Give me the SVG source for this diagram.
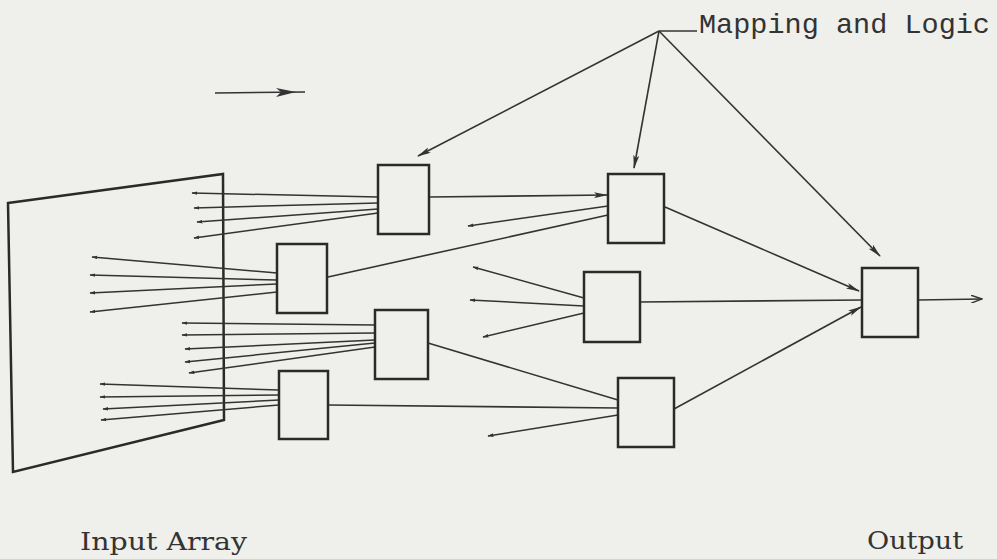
<svg xmlns="http://www.w3.org/2000/svg" width="997" height="559" viewBox="0 0 997 559">
<style>
.bg{fill:#efefeb}
.box{fill:none;stroke:#2a2a2a;stroke-width:2.5}
.ln{fill:none;stroke:#333;stroke-width:1.6}
.in{fill:none;stroke:#333;stroke-width:1.5;marker-end:url(#sm)}
.ar{fill:none;stroke:#333;stroke-width:1.6;marker-end:url(#big)}
.mono{font-family:"Liberation Mono","Courier New",monospace;fill:#333}
.serif{font-family:"DejaVu Serif","Liberation Serif",serif;fill:#333}
</style>
<defs>
<marker id="sm" viewBox="0 0 10 6" refX="9" refY="3" markerWidth="6" markerHeight="4" markerUnits="userSpaceOnUse" orient="auto">
<path d="M0,0 L10,3 L0,6 z" fill="#333"/>
</marker>
<marker id="big" viewBox="0 0 14 6" refX="13" refY="3" markerWidth="14" markerHeight="6" markerUnits="userSpaceOnUse" orient="auto">
<path d="M0,0 L14,3 L0,6 L3,3 z" fill="#333"/>
</marker>
<marker id="open" viewBox="0 0 12 8" refX="11" refY="4" markerWidth="12" markerHeight="8" markerUnits="userSpaceOnUse" orient="auto">
<path d="M0,0 L11,4 L0,8" fill="none" stroke="#333" stroke-width="1.4"/>
</marker>
</defs>
<rect class="bg" x="0" y="0" width="997" height="559"/>

<g id="input-array">
<polygon class="box" points="8,203 223,174 224,420 13,472"/>
</g>

<g id="connectors">
<!-- fan A -->
<line class="in" x1="378" y1="197" x2="192" y2="193"/>
<line class="in" x1="378" y1="203" x2="194" y2="208"/>
<line class="in" x1="378" y1="209" x2="197" y2="222"/>
<line class="in" x1="378" y1="213" x2="194" y2="238"/>
<!-- fan B -->
<line class="in" x1="277" y1="273" x2="92" y2="257"/>
<line class="in" x1="277" y1="280" x2="90" y2="275"/>
<line class="in" x1="277" y1="284" x2="90" y2="293"/>
<line class="in" x1="277" y1="292" x2="90" y2="312"/>
<!-- fan C -->
<line class="in" x1="375" y1="325" x2="182" y2="323"/>
<line class="in" x1="375" y1="333" x2="182" y2="335"/>
<line class="in" x1="375" y1="340" x2="185" y2="349"/>
<line class="in" x1="375" y1="343" x2="185" y2="362"/>
<line class="in" x1="375" y1="347" x2="189" y2="373"/>
<!-- fan D -->
<line class="in" x1="279" y1="390" x2="100" y2="384"/>
<line class="in" x1="279" y1="395" x2="100" y2="397"/>
<line class="in" x1="279" y1="400" x2="103" y2="409"/>
<line class="in" x1="279" y1="405" x2="101" y2="420"/>
<!-- second layer -->
<line class="ar" x1="429" y1="197" x2="607" y2="195"/>
<line class="in" x1="608" y1="206" x2="468" y2="226"/>
<line class="ln" x1="328" y1="277" x2="608" y2="215"/>
<line class="in" x1="584" y1="298" x2="473" y2="267"/>
<line class="in" x1="584" y1="306" x2="470" y2="300"/>
<line class="in" x1="584" y1="313" x2="483" y2="337"/>
<line class="ln" x1="428" y1="343" x2="618" y2="400"/>
<line class="ln" x1="328" y1="405" x2="618" y2="408"/>
<line class="in" x1="618" y1="415" x2="488" y2="436"/>
<!-- to output -->
<line class="ar" x1="665" y1="207" x2="859" y2="291"/>
<line class="ln" x1="640" y1="302" x2="862" y2="300"/>
<line class="ar" x1="674" y1="409" x2="861" y2="307"/>
<line class="ln" x1="918" y1="300" x2="982" y2="299" marker-end="url(#open)"/>
<!-- mapping and logic pointers -->
<line class="ln" x1="659" y1="31" x2="697" y2="31"/>
<line class="ar" x1="659" y1="31" x2="418" y2="156"/>
<line class="ar" x1="659" y1="31" x2="634" y2="168"/>
<line class="ar" x1="659" y1="31" x2="880" y2="256"/>
<!-- direction arrow -->
<line class="ln" x1="215" y1="93" x2="305" y2="92"/>
<path d="M276,88 L296,92 L276,97 L281,92 z" fill="#333"/>
</g>

<g id="boxA"><rect class="box" x="378" y="165" width="51" height="69"/></g>
<g id="boxB"><rect class="box" x="277" y="244" width="50" height="69"/></g>
<g id="boxC"><rect class="box" x="375" y="310" width="53" height="69"/></g>
<g id="boxD"><rect class="box" x="279" y="371" width="49" height="68"/></g>
<g id="boxE"><rect class="box" x="608" y="174" width="56" height="69"/></g>
<g id="boxF"><rect class="box" x="584" y="272" width="56" height="70"/></g>
<g id="boxG"><rect class="box" x="618" y="378" width="56" height="69"/></g>
<g id="boxH"><rect class="box" x="862" y="268" width="56" height="69"/></g>

<g id="labels">
<text class="mono" x="699" y="33" font-size="28" textLength="291" lengthAdjust="spacingAndGlyphs">Mapping and Logic</text>
<text class="serif" x="80" y="550" font-size="25" textLength="167" lengthAdjust="spacingAndGlyphs">Input Array</text>
<text class="serif" x="867" y="549" font-size="25" textLength="96" lengthAdjust="spacingAndGlyphs">Output</text>
</g>
</svg>
